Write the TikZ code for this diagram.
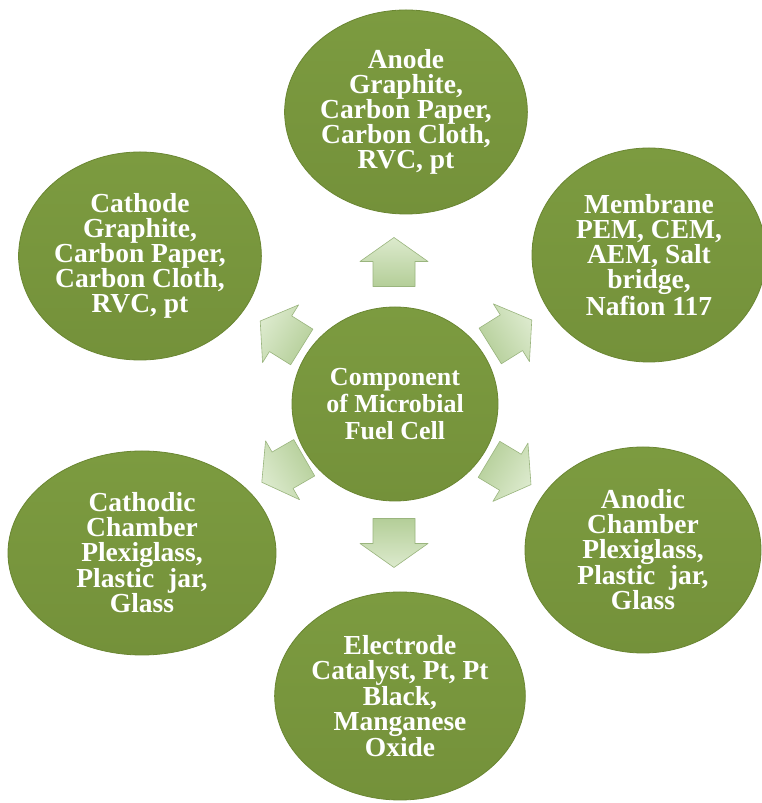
\documentclass[tikz,border=0pt]{standalone}
\usepackage{fontspec}
\setmainfont{Liberation Serif}
\usetikzlibrary{shapes.geometric}
\definecolor{oliveA}{HTML}{7C9B40}
\definecolor{oliveB}{HTML}{74913A}
\definecolor{oliveEdge}{HTML}{6A8632}
\definecolor{arrLight}{HTML}{DCEACD}
\definecolor{arrDark}{HTML}{B4CE98}
\definecolor{arrEdge}{HTML}{9AB57E}
\tikzset{
  bubble/.style={ellipse, draw=oliveEdge, line width=0.8pt, top color=oliveA, bottom color=oliveB,
    inner sep=0pt, text=white, align=center,
    font=\fontsize{27.5}{25}\selectfont\bfseries},
  hubble/.style={bubble, font=\fontsize{26}{27}\selectfont\bfseries},
  blockarr/.style={draw=arrEdge, line width=0.6pt, line join=round, top color=arrLight, bottom color=arrDark}
}
\newcommand{\blockarrow}[3]{%
  \begin{scope}[shift={(#1,#2)},rotate=#3]
    \path[blockarr, shading angle=#3-90] (-24.5,-21) -- (0.5,-21) -- (0.5,-34) -- (24.5,0) -- (0.5,34) -- (0.5,21) -- (-24.5,21) -- cycle;
  \end{scope}}
\begin{document}
\begin{tikzpicture}[x=1pt,y=1pt]
\useasboundingbox (0,0) rectangle (761,803);
\fill[white] (0,0) rectangle (761,803);

\node[bubble, minimum width=238pt, minimum height=204pt] (anode) at (406,691)
  {Anode\\Graphite,\\Carbon Paper,\\Carbon Cloth,\\RVC, pt};
\node[bubble, minimum width=236pt, minimum height=208pt] (cathode) at (140,547)
  {Cathode\\Graphite,\\Carbon Paper,\\Carbon Cloth,\\RVC, pt};
\node[bubble, minimum width=234pt, minimum height=214pt] (membrane) at (649,548)
  {Membrane\\PEM, CEM,\\AEM, Salt\\bridge,\\Nafion 117};
\node[bubble, minimum width=236pt, minimum height=206pt] (anodic) at (643,253)
  {Anodic\\Chamber\\Plexiglass,\\Plastic\ \ jar,\\Glass};
\node[bubble, minimum width=246pt, minimum height=208pt] (electrode) at (400,107)
  {Electrode\\Catalyst, Pt, Pt\\Black,\\Manganese\\Oxide};
\node[bubble, minimum width=268pt, minimum height=204pt] (cathodic) at (142,250)
  {Cathodic\\Chamber\\Plexiglass,\\Plastic\ \ jar,\\Glass};
\node[hubble, minimum width=206pt, minimum height=194pt] (hub) at (395,399)
  {Component\\of Microbial\\Fuel Cell};

\blockarrow{394}{541}{90}
\blockarrow{394}{260}{-90}
\blockarrow{281}{469}{148}
\blockarrow{511}{470}{32}
\blockarrow{510}{331}{-31}
\blockarrow{283}{333}{210}
\end{tikzpicture}
\end{document}
